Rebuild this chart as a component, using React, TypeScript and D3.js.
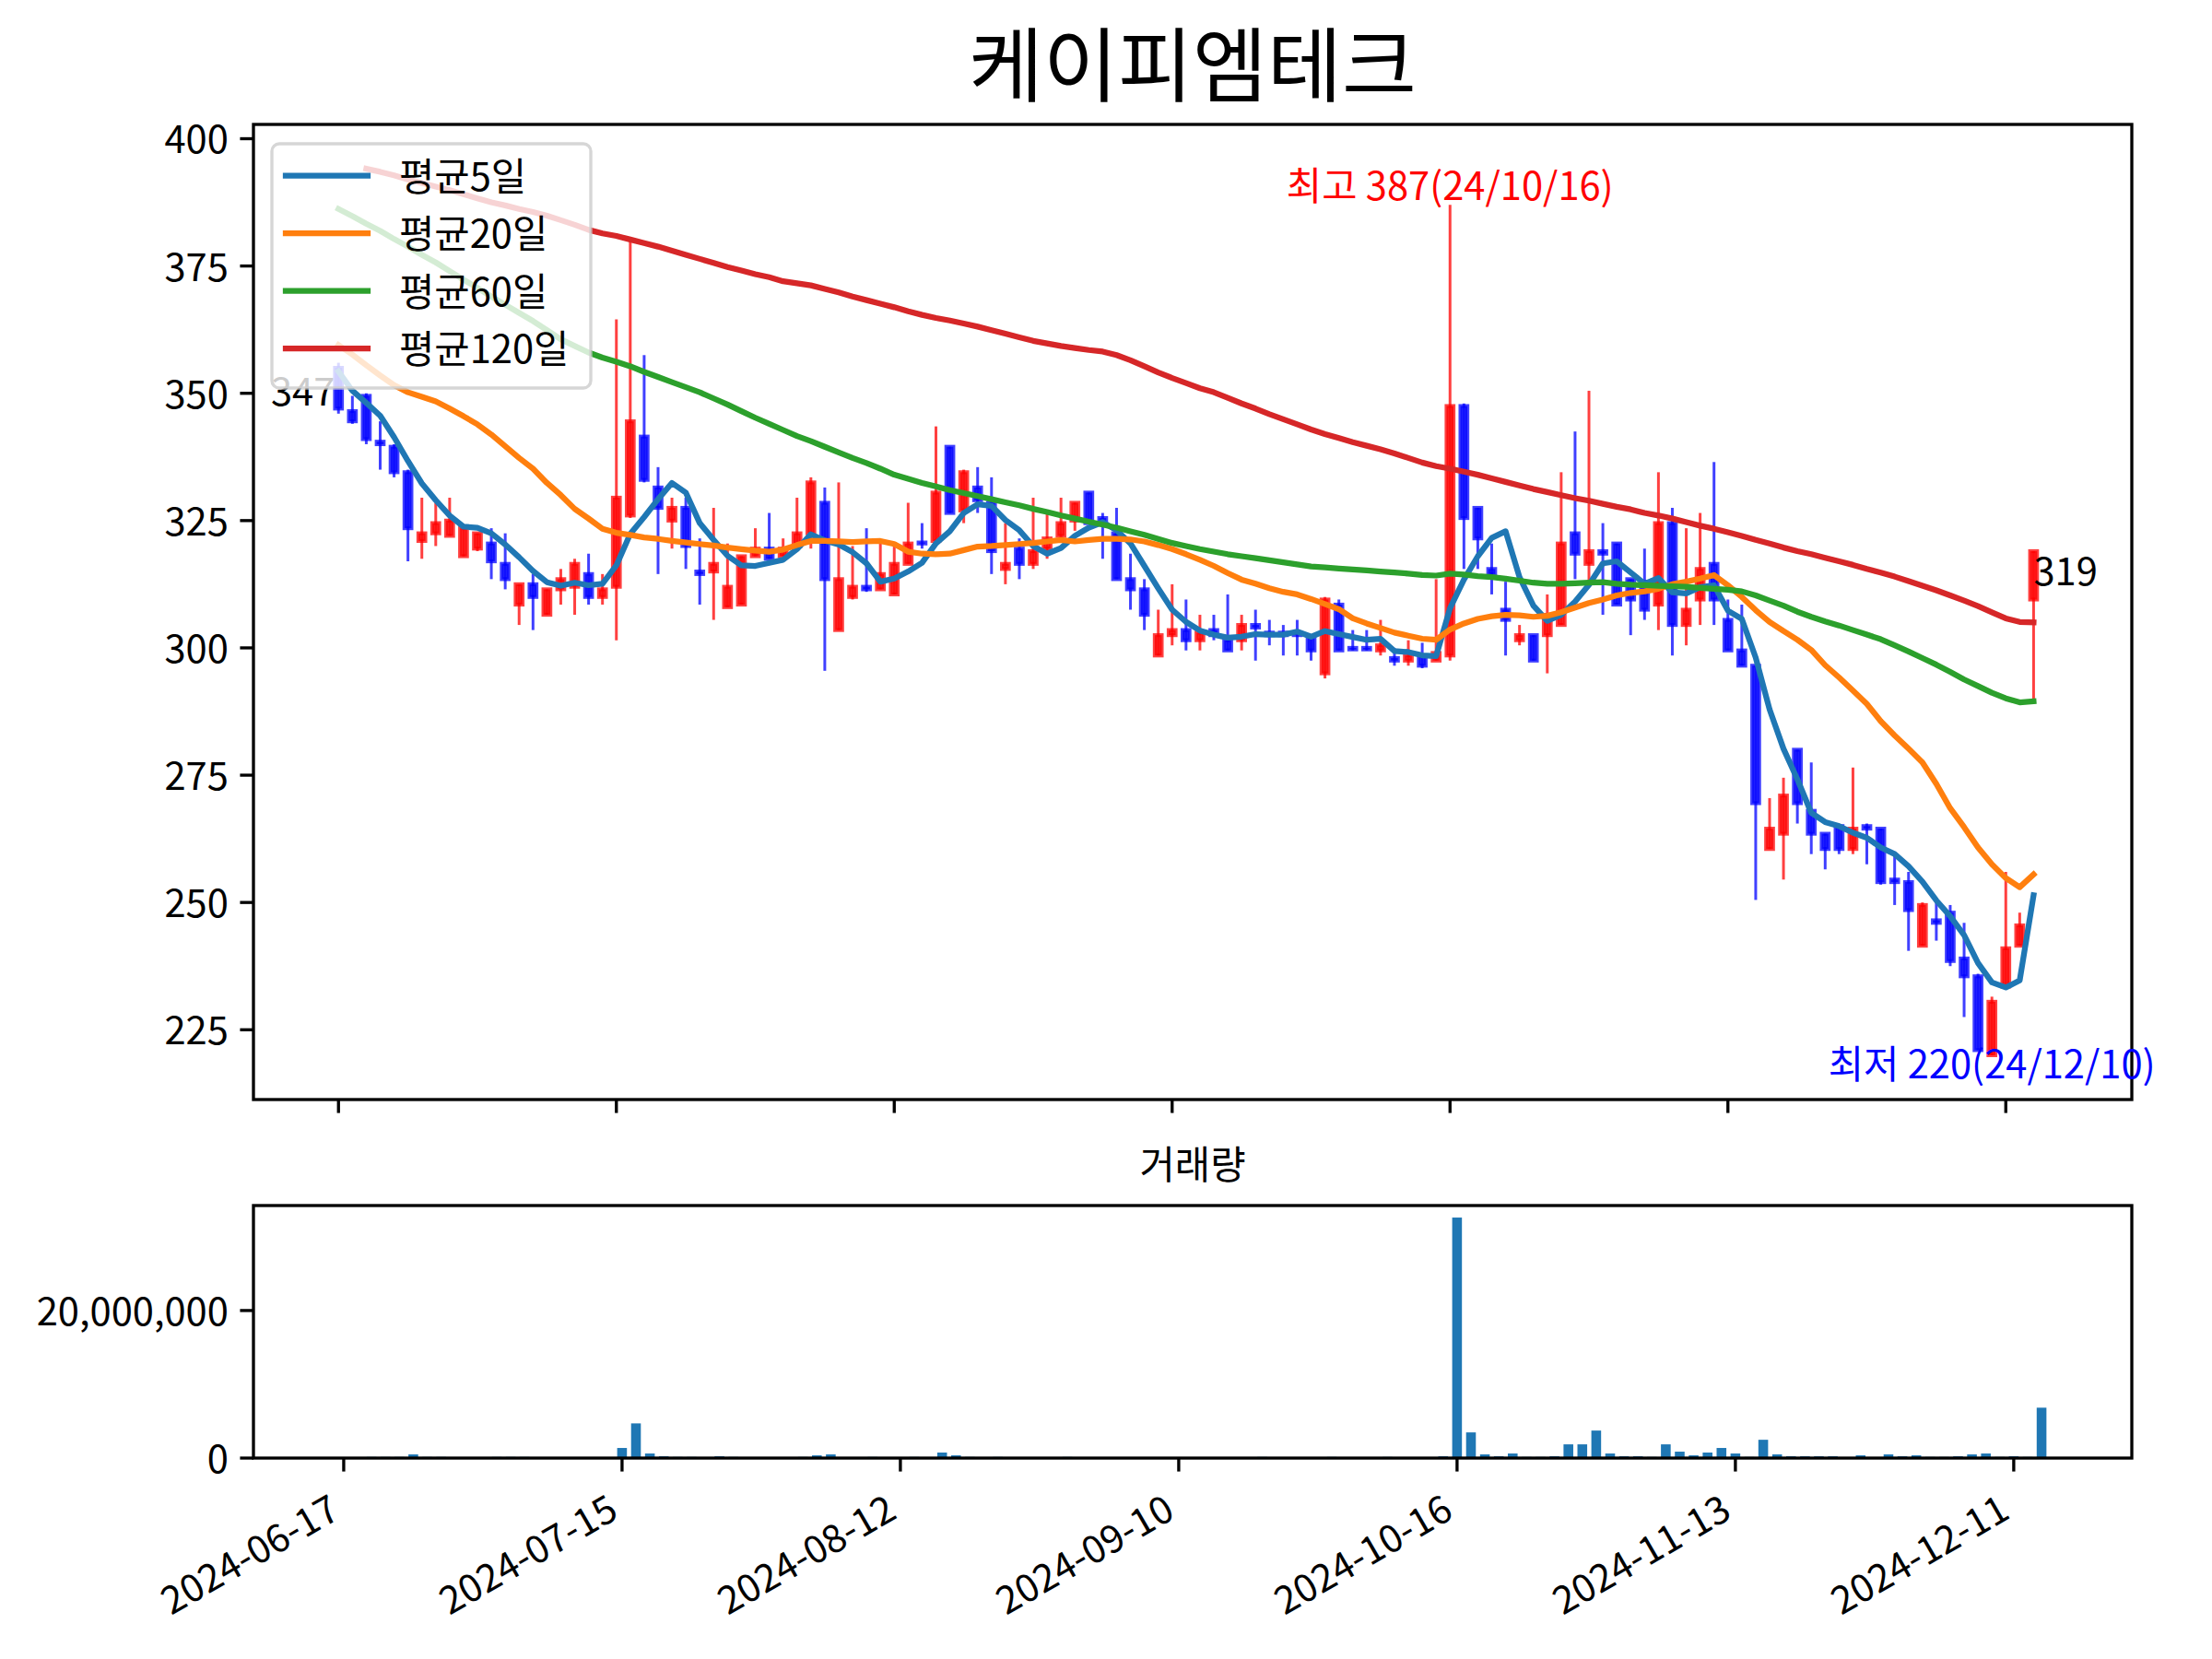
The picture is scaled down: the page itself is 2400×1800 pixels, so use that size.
import { useEffect } from "react";
import * as d3 from "d3";

// ---- data (trading-day index 0..122) ----
const TITLE = "케이피엠테크";
const VOLUME_TITLE = "거래량";

const opens = [
  355, 346.5, 349.5, 340.5, 339.5, 334.5, 321, 322.5, 322, 318,
  319.5, 320.5, 316.5, 308.5, 312.5, 306.5, 311.5, 312, 314.5, 310,
  312, 326, 341.5, 331.5, 325, 327.5, 315, 315, 308, 308.5,
  318, 319.5, 318, 320, 322.5, 328.5, 303.5, 310, 312, 311.5,
  310.5, 316.5, 320.7, 321, 339.5, 327, 331.5, 328.5, 315.5, 319.5,
  316.5, 319.5, 322, 325, 330.5, 325.5, 322.5, 313.5, 311.5, 298.5,
  302.5, 303.5, 301.5, 303.5, 301.5, 301.5, 304.5, 303, 303, 303,
  302, 295, 308.5, 300, 300, 299.5, 298, 297.5, 298.5, 297.5,
  298.5, 347.5, 327.5, 315.5, 307.5, 301.5, 302.5, 302.5, 304.5, 322.5,
  316.5, 319, 320.5, 313.5, 313, 308.5, 324.5, 304.5, 309.5, 316.5,
  305.5, 299.5, 296.5, 260.5, 263.5, 280, 268, 263.5, 265, 260.5,
  265, 264.5, 254.5, 254, 241.5, 246.5, 248, 239, 235.5, 220,
  233.5, 241.5, 309.5,
];
const highs = [
  356, 349.5, 350, 344.5, 340, 335, 329.5, 328.5, 329.5, 323.5,
  322.5, 323.5, 322.5, 312.5, 314.5, 311.5, 315.5, 317.5, 318.5, 314.5,
  364.5, 380, 357.5, 335.5, 329.5, 329.5, 321.5, 327.5, 320.5, 318,
  323.5, 326.5, 321.5, 329.5, 333.5, 331.5, 332.5, 320, 323.5, 320.5,
  320, 328.5, 324.5, 343.5, 339.5, 335, 335.5, 333.5, 324.5, 321.5,
  329.5, 326.5, 329.5, 328.5, 330.5, 326.5, 327.5, 318.5, 313.5, 307.5,
  312.5, 309.5, 306.5, 306.5, 310.5, 306.5, 307.5, 305.5, 304.5, 305.5,
  302, 310, 309.5, 303.5, 303.5, 305.5, 300, 301.5, 301, 313.5,
  387, 348, 327.5, 320.5, 313, 304.5, 302.5, 310.5, 334.5, 342.5,
  350.5, 324.5, 320.5, 313.5, 319.5, 334.5, 327.5, 323.5, 326.5, 336.5,
  309.5, 308.5, 296.5, 270.5, 274.5, 280, 277.5, 263.5, 265, 276.5,
  265.5, 264.5, 260, 256, 250, 250, 249.5, 246, 236, 231.5,
  256, 248, 319,
];
const lows = [
  346, 344, 340, 335, 333.5, 317, 317.5, 320, 322, 318,
  319, 313.5, 311.5, 304.5, 303.5, 306.5, 308.5, 306.5, 308.5, 308.5,
  301.5, 325.5, 332.5, 314.5, 319.5, 315.5, 308.5, 305.5, 308, 308.5,
  318, 317.5, 318, 320, 319.5, 295.5, 303.5, 309.5, 311, 311.5,
  310.5, 316.5, 319.5, 320, 326.5, 324.5, 326.5, 314.5, 312.5, 313.5,
  315.5, 317.5, 321.5, 323, 324.5, 317.5, 313.5, 307.5, 303.5, 298.5,
  300.5, 299.5, 299.5, 301.5, 299.5, 299.5, 297.5, 300.5, 298.5, 298.5,
  297.5, 294, 299.5, 299.5, 299.5, 298.5, 296.5, 296.5, 296, 297.5,
  297.5, 315.5, 315.5, 310.5, 298.5, 300.5, 297.5, 295, 304.5, 313.5,
  313, 306.5, 308.5, 302.5, 305.5, 303.5, 298.5, 300.5, 304.5, 304.5,
  299.5, 296.5, 250.5, 260.5, 254.5, 265.5, 259.5, 256.5, 259.5, 259.5,
  257.5, 253.5, 249.5, 240.5, 241.5, 242.5, 237.5, 227.5, 221, 220,
  233.5, 241.5, 289.5,
];
const closes = [
  347, 344.5, 341, 340, 334.5, 323.5, 322.5, 324.5, 325, 323.5,
  322.5, 317, 313.5, 312.5, 310, 311.5, 313.5, 316.5, 310, 311.5,
  329.5, 344.5, 333, 327.5, 327.5, 320, 314.5, 316.5, 312, 318,
  319.5, 317.5, 319.5, 322.5, 332.5, 313.5, 313.5, 312, 311.5, 314.5,
  316.5, 320.5, 320.5, 330.5, 326.5, 334.5, 329, 319, 316.5, 316.5,
  319, 321.5, 324.5, 328.5, 324.5, 324.5, 313.5, 311.5, 306.5, 302.5,
  303.5, 301.5, 303, 302.5, 299.5, 304.5, 304, 302.5, 302.5, 302.5,
  299.5, 309.5, 299.5, 299.7, 299.7, 300.5, 297.5, 298.5, 296.5, 299,
  347.5, 325.5, 321.5, 314.5, 305.5, 302.5, 297.5, 306.5, 320.5, 318.5,
  319, 318.5, 308.5, 309.5, 307.5, 324.5, 304.5, 307.5, 315.5, 309.5,
  299.5, 296.5, 269.5, 264.5, 271, 269.5, 263.5, 260.5, 260.5, 264.5,
  264.5, 254, 254, 248.5, 249.5, 246, 238.5, 235.5, 221, 230.5,
  241, 245.5, 319,
];
// closes of the four sessions before the window (for the 5-day average)
const priorCloses = [363.5, 353, 352.5, 355.5];

const ma20 = [
  359.5, 357.6, 355.5, 353.5, 351.6, 350.2, 349.3, 348.4, 347.0, 345.5,
  343.9, 341.9, 339.6, 337.3, 335.2, 332.4, 330.0, 327.3, 325.4, 323.4,
  322.6, 322.2, 321.7, 321.4, 321.0, 320.7, 320.4, 320.1, 319.7, 319.4,
  319.1, 318.9, 319.3, 320.2, 321.0, 321.0, 320.9, 320.8, 320.9, 321.0,
  320.4, 318.9, 318.5, 318.4, 318.5, 319.2, 319.9, 320.0, 320.2, 320.4,
  320.6, 320.9, 321.2, 320.9, 321.2, 321.4, 321.4, 321.3, 320.9, 320.2,
  319.4, 318.4, 317.3, 316.1, 314.7, 313.4, 312.6, 311.7, 311.0, 310.5,
  309.6, 308.6, 307.6, 305.8, 304.8, 303.9, 303.0, 302.4, 301.8, 301.6,
  303.6, 304.8, 305.7, 306.2, 306.5, 306.4, 306.1, 306.3, 307.0, 307.9,
  308.8, 309.5, 310.3, 310.8, 311.1, 311.6, 312.5, 313.0, 313.6, 314.3,
  312.3, 310.0, 307.4, 305.1, 303.3, 301.6, 299.6, 296.6, 294.2, 291.6,
  289.0, 285.6, 282.8, 280.2, 277.5, 273.3, 268.5, 264.8, 260.8, 257.5,
  254.8, 253.0, 255.5,
];
const ma60 = [
  386.2, 384.8, 383.3, 381.9, 380.3, 378.8, 377.2, 375.7, 374.0, 372.3,
  370.7, 369.0, 367.4, 365.8, 364.2, 362.4, 360.6, 359.3, 358.0, 357.0,
  356.2, 355.3, 354.2, 353.2, 352.2, 351.2, 350.2, 349.0, 347.8, 346.5,
  345.2, 344.0, 342.8, 341.6, 340.6, 339.5, 338.4, 337.3, 336.3, 335.2,
  334.0, 333.2, 332.4, 331.7, 331.0, 330.4, 329.8, 329.2, 328.6, 328.0,
  327.3, 326.7, 326.0, 325.4, 324.8, 324.2, 323.6, 322.9, 322.2, 321.4,
  320.6, 320.0, 319.4, 318.9, 318.4, 318.0, 317.6, 317.2, 316.8, 316.4,
  316.0, 315.8, 315.6, 315.4, 315.2, 315.0, 314.8, 314.6, 314.3, 314.2,
  314.6, 314.4, 314.1, 313.9, 313.6, 313.2, 312.8, 312.6, 312.6, 312.7,
  312.8, 312.9, 312.6, 312.4, 312.3, 312.2, 312.1, 312.0, 311.8, 311.6,
  311.4, 311.1, 310.3, 309.3, 308.3, 307.1, 306.1, 305.2, 304.4, 303.5,
  302.6, 301.7, 300.5, 299.3, 298.0, 296.7, 295.3, 293.8, 292.5, 291.2,
  290.1, 289.3, 289.5,
];
const ma120 = [
  null, null, 394.1, 393.5, 392.8, 392.0, 391.3, 390.6, 389.9, 389.1,
  388.3, 387.5, 386.9, 386.2, 385.6, 384.9, 384.0, 383.1, 382.1, 381.4,
  380.9, 380.2, 379.5, 378.8, 378.0, 377.2, 376.4, 375.6, 374.8, 374.1,
  373.4, 372.8, 372.0, 371.6, 371.2, 370.5, 369.8, 369.0, 368.3, 367.6,
  366.9, 366.1, 365.4, 364.8, 364.3, 363.7, 363.1, 362.4, 361.7, 361.0,
  360.3, 359.8, 359.3, 358.9, 358.5, 358.2, 357.5, 356.5, 355.3, 354.1,
  353.0, 352.0, 351.0, 350.2, 349.1, 348.0, 347.0, 345.9, 344.9, 343.9,
  342.9, 342.0, 341.2, 340.4, 339.7, 339.0, 338.2, 337.3, 336.4, 335.7,
  335.2, 334.6, 334.0, 333.3, 332.6, 331.9, 331.2, 330.6, 330.0, 329.4,
  328.9, 328.3, 327.7, 327.2, 326.5, 326.0, 325.4, 324.7, 324.0, 323.4,
  322.7, 322.0, 321.2, 320.5, 319.7, 319.0, 318.4, 317.7, 317.0, 316.3,
  315.5, 314.8, 314.0, 313.1, 312.2, 311.3, 310.3, 309.3, 308.2, 307.0,
  305.8, 305.1, 305.0,
];

// volume in millions of shares
const volumeM = [
  0.03, 0.03, 0.15, 0.15, 0.15, 0.5, 0.15, 0.15, 0.03, 0.03,
  0.03, 0.15, 0.15, 0.15, 0.03, 0.03, 0.03, 0.03, 0.03, 0.03,
  1.37, 4.7, 0.62, 0.25, 0.15, 0.15, 0.03, 0.25, 0.15, 0.03,
  0.03, 0.03, 0.03, 0.15, 0.37, 0.5, 0.03, 0.03, 0.15, 0.03,
  0.03, 0.15, 0.03, 0.75, 0.37, 0.15, 0.03, 0.15, 0.03, 0.03,
  0.03, 0.03, 0.15, 0.03, 0.03, 0.03, 0.03, 0.03, 0.03, 0.03,
  0.03, 0.03, 0.03, 0.03, 0.03, 0.03, 0.15, 0.03, 0.03, 0.03,
  0.03, 0.15, 0.03, 0.03, 0.03, 0.15, 0.03, 0.03, 0.03, 0.25,
  32.6, 3.48, 0.5, 0.25, 0.62, 0.15, 0.15, 0.25, 1.86, 1.86,
  3.73, 0.62, 0.25, 0.25, 0.15, 1.86, 0.87, 0.37, 0.75, 1.37,
  0.62, 0.15, 2.48, 0.5, 0.25, 0.25, 0.25, 0.25, 0.03, 0.37,
  0.03, 0.5, 0.25, 0.37, 0.15, 0.15, 0.25, 0.5, 0.62, 0.15,
  0.25, 0.15, 6.83,
];

const tickIndex = [0, 20, 40, 60, 80, 100, 120];
const tickDates = [
  "2024-06-17", "2024-07-15", "2024-08-12", "2024-09-10",
  "2024-10-16", "2024-11-13", "2024-12-11",
];
const priceTicks = [225, 250, 275, 300, 325, 350, 375, 400];
const volumeTicks = [0, 20000000];

const highDate = "24/10/16";
const lowDate = "24/12/10";

const series = [
  { name: "평균5일", color: "#1f77b4" },
  { name: "평균20일", color: "#ff7f0e" },
  { name: "평균60일", color: "#2ca02c" },
  { name: "평균120일", color: "#d62728" },
];

// ---- layout (px, 300 dpi) ----
const W = 2400;
const H = 1800;
const PT = 300 / 72;
const FS = 10 * PT;
const main = { left: 275, right: 2313, top: 135, bottom: 1193 };
const vol = { left: 275, right: 2313, top: 1308, bottom: 1582 };
const TICK = 3.5 * PT;
const AXW = 0.8 * PT;
const FONT = '"Noto Sans CJK KR", "Noto Sans", sans-serif';

export default function App() {
  useEffect(() => {
    document.body.style.margin = "0";
  }, []);

  const n = closes.length;
  const idx = d3.range(n);

  const allCloses = priorCloses.concat(closes);
  const ma5 = idx.map((i) => d3.mean(allCloses.slice(i, i + 5)) as number);

  // x limits of the price panel
  const xMain = d3.scaleLinear().domain([-6.12, 129.07]).range([main.left, main.right]);
  const vPad = 0.35;
  const vSpan = n - 1 + 2 * vPad;
  const xVol = d3
    .scaleLinear()
    .domain([-vPad - 0.05 * vSpan, n - 1 + vPad + 0.05 * vSpan])
    .range([vol.left, vol.right]);

  const lineVals = [...lows, ...highs, ...ma20, ...ma60, ...(ma120.filter((v) => v != null) as number[])];
  const [pMin, pMax] = d3.extent(lineVals) as [number, number];
  const pPad = (pMax - pMin) * 0.05;
  const yMain = d3.scaleLinear().domain([pMin - pPad, pMax + pPad]).range([main.bottom, main.top]);

  const volume = volumeM.map((v) => v * 1e6);
  const yVol = d3.scaleLinear().domain([0, (d3.max(volume) as number) * 1.05]).range([vol.bottom, vol.top]);

  const bodyW = xMain(0.5) - xMain(0);
  const barW = xVol(0.7) - xVol(0);

  const maSeries: (number | null)[][] = [ma5, ma20, ma60, ma120];
  const line = d3
    .line<number | null>()
    .defined((d) => d != null)
    .x((_, i) => xMain(i))
    .y((d) => yMain(d as number));

  const hiIdx = d3.maxIndex(highs);
  const loIdx = d3.minIndex(lows);
  const fmt = d3.format(",");

  return (
    <svg
      width={W}
      height={H}
      viewBox={`0 0 ${W} ${H}`}
      style={{ display: "block", background: "#fff" }}
      fontFamily={FONT}
    >
      <rect x={0} y={0} width={W} height={H} fill="#fff" />

      {/* title */}
      <text x={(main.left + main.right) / 2} y={103} textAnchor="middle" fontSize={88}>
        {TITLE}
      </text>

      {/* candles */}
      <g>
        {idx.map((i) => {
          const up = closes[i] > opens[i];
          const c = up ? "#ff0000" : "#0000ff";
          const x = xMain(i);
          const yTop = yMain(Math.max(opens[i], closes[i]));
          const yBot = yMain(Math.min(opens[i], closes[i]));
          return (
            <g key={i}>
              <line x1={x} x2={x} y1={yMain(highs[i])} y2={yMain(lows[i])} stroke={c} strokeOpacity={0.75} strokeWidth={3} />
              <rect
                x={x - bodyW / 2}
                y={yTop}
                width={bodyW}
                height={Math.max(yBot - yTop, 0.4)}
                fill={c}
                fillOpacity={0.75}
                stroke={c}
                strokeOpacity={0.75}
                strokeWidth={PT}
              />
            </g>
          );
        })}
      </g>

      {/* moving averages */}
      {maSeries.map((s, k) => (
        <path
          key={k}
          d={line(s) || ""}
          fill="none"
          stroke={series[k].color}
          strokeWidth={1.5 * PT}
          strokeLinejoin="round"
          strokeLinecap="square"
        />
      ))}

      {/* price axes */}
      <rect x={main.left} y={main.top} width={main.right - main.left} height={main.bottom - main.top} fill="none" stroke="#000" strokeWidth={AXW} />
      {priceTicks.map((t) => (
        <g key={t}>
          <line x1={main.left - TICK} x2={main.left} y1={yMain(t)} y2={yMain(t)} stroke="#000" strokeWidth={AXW} />
          <text x={main.left - TICK - 3.5 * PT + 2} y={yMain(t) + 16} textAnchor="end" fontSize={FS}>
            {t}
          </text>
        </g>
      ))}
      {tickIndex.map((t) => (
        <line key={t} x1={xMain(t)} x2={xMain(t)} y1={main.bottom} y2={main.bottom + TICK} stroke="#000" strokeWidth={AXW} />
      ))}

      {/* annotations */}
      <text x={xMain(hiIdx)} y={yMain(highs[hiIdx]) - 5} textAnchor="middle" fontSize={FS} fill="#ff0000">
        {`최고 ${highs[hiIdx]}(${highDate})`}
      </text>
      <text x={xMain(loIdx)} y={yMain(lows[loIdx]) + 25} textAnchor="middle" fontSize={FS} fill="#0000ff">
        {`최저 ${lows[loIdx]}(${lowDate})`}
      </text>
      <text x={xMain(0) - 4} y={yMain(closes[0]) - 3} textAnchor="end" fontSize={FS} fill="#000">
        {Math.round(closes[0])}
      </text>
      <text x={xMain(n - 1)} y={yMain(closes[n - 1]) + 37} textAnchor="start" fontSize={FS} fill="#000">
        {Math.round(closes[n - 1])}
      </text>

      {/* legend */}
      <g>
        <rect x={295} y={156} width={346} height={265} rx={8} ry={8} fill="#fff" fillOpacity={0.8} stroke="#cccccc" strokeOpacity={0.8} strokeWidth={AXW} />
        {series.map((s, k) => {
          const ly = 190.7 + k * 62.5;
          return (
            <g key={s.name}>
              <line x1={310} x2={399} y1={ly} y2={ly} stroke={s.color} strokeWidth={1.5 * PT} strokeLinecap="square" />
              <text x={433} y={ly + 16} fontSize={FS}>
                {s.name}
              </text>
            </g>
          );
        })}
      </g>

      {/* volume panel */}
      <text x={(vol.left + vol.right) / 2} y={1279} textAnchor="middle" fontSize={FS}>
        {VOLUME_TITLE}
      </text>
      {volume.map((v, i) => (
        <rect key={i} x={xVol(i) - barW / 2} y={yVol(v)} width={barW} height={yVol(0) - yVol(v)} fill="#1f77b4" />
      ))}
      <rect x={vol.left} y={vol.top} width={vol.right - vol.left} height={vol.bottom - vol.top} fill="none" stroke="#000" strokeWidth={AXW} />
      {volumeTicks.map((t) => (
        <g key={t}>
          <line x1={vol.left - TICK} x2={vol.left} y1={yVol(t)} y2={yVol(t)} stroke="#000" strokeWidth={AXW} />
          <text x={vol.left - TICK - 3.5 * PT + 2} y={yVol(t) + 16} textAnchor="end" fontSize={FS}>
            {fmt(t)}
          </text>
        </g>
      ))}
      {tickIndex.map((t, k) => (
        <g key={t}>
          <line x1={xVol(t)} x2={xVol(t)} y1={vol.bottom} y2={vol.bottom + TICK} stroke="#000" strokeWidth={AXW} />
          <text transform={`translate(${xVol(t) - 2},${vol.bottom + 64}) rotate(-30)`} textAnchor="end" fontSize={FS}>
            {tickDates[k]}
          </text>
        </g>
      ))}
    </svg>
  );
}
